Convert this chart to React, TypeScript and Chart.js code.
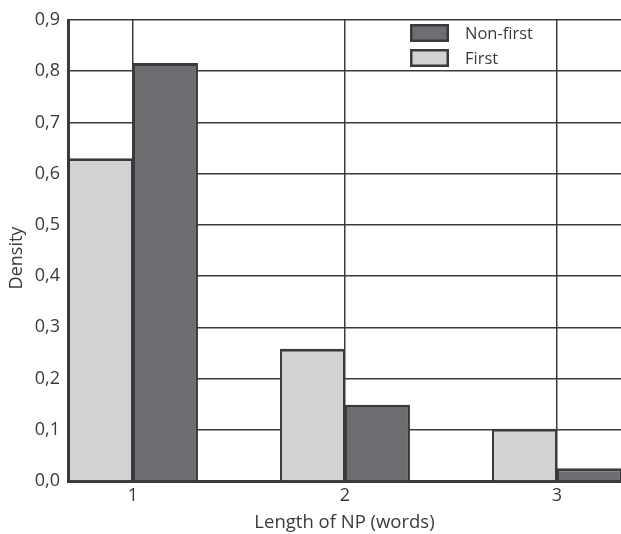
import React, { useEffect, useRef } from "react";
import { Chart, registerables } from "chart.js";

Chart.register(...registerables);

const lengths = [1, 2, 3];
const firstDensity = [0.63, 0.258, 0.102];
const nonFirstDensity = [0.816, 0.149, 0.025];
const yTickValues = [0, 0.1, 0.2, 0.3, 0.4, 0.5, 0.6, 0.7, 0.8, 0.9];
const seriesLabels = ["First", "Non-first"];
const xTitle = "Length of NP (words)";
const yTitle = "Density";

const FONT = "'Open Sans', 'DejaVu Sans', sans-serif";
const TEXT = "#3a3a3a";
const LINE = "#3a3a3a";

const legendPlugin = {
  id: "insideLegend",
  afterDraw(chart: any) {
    const ctx = chart.ctx;
    const ds = chart.data.datasets;
    const order = [1, 0];
    ctx.save();
    order.forEach((di, row) => {
      const d = ds[di];
      const x = 410;
      const y = 24 + row * 25;
      ctx.fillStyle = LINE;
      ctx.fillRect(x, y, 39, 18);
      ctx.fillStyle = d.backgroundColor;
      ctx.fillRect(x + 2.5, y + 2.5, 34, 13);
      ctx.fillStyle = TEXT;
      ctx.font = `16.5px ${FONT}`;
      ctx.textBaseline = "middle";
      ctx.textAlign = "left";
      ctx.fillText(d.label, 465, y + 10);
    });
    // y-axis title
    ctx.save();
    ctx.translate(17, 258);
    ctx.rotate(-Math.PI / 2);
    ctx.font = `18px ${FONT}`;
    ctx.fillStyle = TEXT;
    ctx.textAlign = "center";
    ctx.textBaseline = "middle";
    ctx.fillText(yTitle, 0, 0);
    ctx.restore();
    ctx.restore();
  },
};

export default function App() {
  const ref = useRef<HTMLCanvasElement>(null);
  useEffect(() => {
    if (!ref.current) return;
    const chart = new Chart(ref.current, {
      type: "bar",
      data: {
        datasets: [
          {
            label: seriesLabels[0],
            data: lengths.map((x, i) => ({ x, y: firstDensity[i] })),
            backgroundColor: "#d1d2d4",
            borderColor: LINE,
            borderWidth: { top: 3, left: 2, right: 2, bottom: 0 },
            borderSkipped: false,
            categoryPercentage: 0.613,
            barPercentage: 1,
          },
          {
            label: seriesLabels[1],
            data: lengths.map((x, i) => ({ x, y: nonFirstDensity[i] })),
            backgroundColor: "#6d6e72",
            borderColor: LINE,
            borderWidth: { top: 3, left: 2, right: 2, bottom: 0 },
            borderSkipped: false,
            categoryPercentage: 0.613,
            barPercentage: 1,
          },
        ],
      },
      options: {
        animation: false,
        responsive: false,
        maintainAspectRatio: false,
        layout: { padding: { top: 20, left: 0, right: 0, bottom: 0 } },
        plugins: {
          legend: { display: false },
          tooltip: { enabled: false },
        },
        scales: {
          x: {
            type: "linear",
            min: 0.6934,
            max: 3.302,
            offset: false,
            grid: { offset: false, color: LINE, lineWidth: 1.5, drawTicks: false },
            border: { color: LINE, width: 3 },
            afterBuildTicks: (s: any) => {
              s.ticks = lengths.map((v) => ({ value: v }));
            },
            afterFit: (s: any) => {
              s.height = 53;
            },
            ticks: {
              padding: 4,
              color: TEXT,
              font: { family: FONT, size: 18 },
              callback: (v: any) => String(v),
            },
            title: {
              display: true,
              text: xTitle,
              color: TEXT,
              font: { family: FONT, size: 18.5 },
              padding: { top: 2, bottom: 0 },
            },
          },
          y: {
            type: "linear",
            min: 0,
            max: 0.9,
            grid: { color: LINE, lineWidth: 1.5, drawTicks: false },
            border: { color: LINE, width: 3 },
            afterBuildTicks: (s: any) => {
              s.ticks = yTickValues.map((v) => ({ value: v }));
            },
            afterFit: (s: any) => {
              s.width = 68;
            },
            ticks: {
              padding: 8,
              color: TEXT,
              font: { family: FONT, size: 18 },
              callback: (v: any) => Number(v).toFixed(1).replace(".", ","),
            },
            title: { display: false },
          },
        },
      },
      plugins: [legendPlugin],
    });
    return () => chart.destroy();
  }, []);
  return (
    <div style={{ position: "fixed", left: 0, top: 0, width: 621, height: 534, background: "#fff" }}>
      <canvas ref={ref} width={621} height={534} />
    </div>
  );
}
